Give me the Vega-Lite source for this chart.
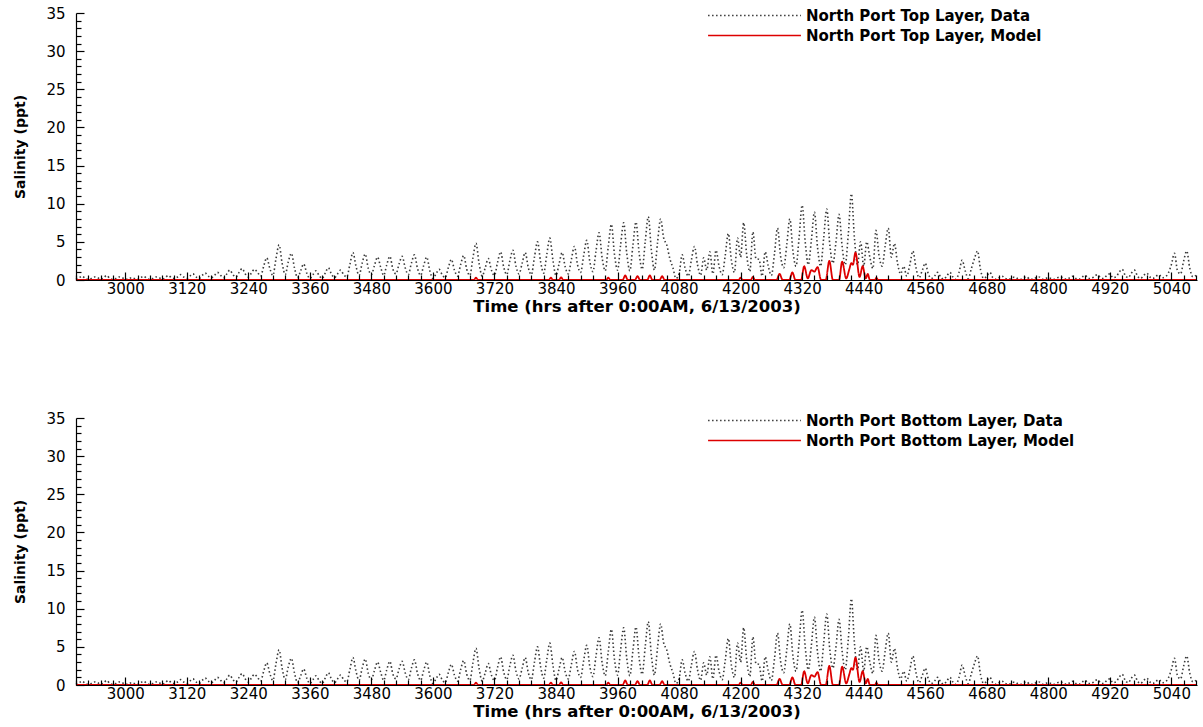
{
"$schema": "https://vega.github.io/schema/vega-lite/v6.json",
"background": "white",
"padding": {"left": 13, "top": 5, "right": 5, "bottom": 5},
"spacing": 95,
"config": {
 "view": {"stroke": null},
 "font": "DejaVu Sans",
 "axis": {"grid": false, "domainColor": "black", "tickColor": "black", "labelColor": "black", "titleColor": "black", "labelFont": "DejaVu Sans", "labelFontSize": 15, "titleFont": "DejaVu Sans", "titleFontSize": 16.5, "titleFontWeight": "bold", "domainWidth": 1.2, "tickWidth": 1.2, "labelOverlap": false, "labelFlush": false},
 "legend": {"orient": "none", "legendX": 668, "legendY": -8, "title": null, "symbolType": "M-5,0H5", "symbolSize": 345, "symbolStrokeWidth": 1.5, "labelFont": "DejaVu Sans", "labelFontSize": 15, "labelFontWeight": "bold", "labelColor": "black", "labelOffset": 41, "labelLimit": 500, "rowPadding": 1}
},
"resolve": {"scale": {"color": "independent", "strokeDash": "independent"}},
"datasets": {
 "obs": [
{"t":2904,"v":0.1},{"t":2910,"v":0.3},{"t":2916,"v":0.5},{"t":2922,"v":0.2},
{"t":2928,"v":0.1},{"t":2934,"v":0.2},{"t":2940,"v":0.4},{"t":2946,"v":0.3},
{"t":2952,"v":0.1},{"t":2958,"v":0.3},{"t":2964,"v":0.6},{"t":2970,"v":0.2},
{"t":2976,"v":0.1},{"t":2982,"v":0.2},{"t":2988,"v":0.4},{"t":2994,"v":0.3},
{"t":3000,"v":0.1},{"t":3006,"v":0.1},{"t":3012,"v":0.3},{"t":3018,"v":0.2},
{"t":3024,"v":0.1},{"t":3030,"v":0.3},{"t":3036,"v":0.5},{"t":3042,"v":0.2},
{"t":3048,"v":0.1},{"t":3054,"v":0.2},{"t":3060,"v":0.4},{"t":3066,"v":0.3},
{"t":3072,"v":0.1},{"t":3078,"v":0.3},{"t":3084,"v":0.6},{"t":3090,"v":0.3},
{"t":3096,"v":0.2},{"t":3102,"v":0.4},{"t":3108,"v":0.7},{"t":3114,"v":0.4},
{"t":3120,"v":0.2},{"t":3126,"v":0.5},{"t":3132,"v":0.8},{"t":3138,"v":0.4},
{"t":3144,"v":0.2},{"t":3150,"v":0.6},{"t":3156,"v":0.9},{"t":3162,"v":0.5},
{"t":3168,"v":0.3},{"t":3174,"v":0.6},{"t":3180,"v":1.0},{"t":3186,"v":0.6},
{"t":3192,"v":0.3},{"t":3198,"v":0.8},{"t":3204,"v":1.3},{"t":3210,"v":0.7},
{"t":3216,"v":0.4},{"t":3222,"v":1.0},{"t":3228,"v":1.5},{"t":3234,"v":0.8},
{"t":3240,"v":0.4},{"t":3246,"v":0.9},{"t":3252,"v":1.4},{"t":3258,"v":1.0},
{"t":3264,"v":0.5},{"t":3270,"v":1.8},{"t":3276,"v":2.9},{"t":3282,"v":1.5},
{"t":3288,"v":0.6},{"t":3294,"v":2.8},{"t":3300,"v":4.6},{"t":3306,"v":2.2},
{"t":3312,"v":0.7},{"t":3318,"v":2.4},{"t":3324,"v":3.5},{"t":3330,"v":1.6},
{"t":3336,"v":0.3},{"t":3342,"v":1.2},{"t":3348,"v":2.1},{"t":3354,"v":0.9},
{"t":3360,"v":0.2},{"t":3366,"v":0.7},{"t":3372,"v":1.2},{"t":3378,"v":0.6},
{"t":3384,"v":0.2},{"t":3390,"v":0.9},{"t":3396,"v":1.6},{"t":3402,"v":0.8},
{"t":3408,"v":0.3},{"t":3414,"v":0.8},{"t":3420,"v":1.3},{"t":3426,"v":0.7},
{"t":3432,"v":0.4},{"t":3438,"v":2.0},{"t":3444,"v":3.6},{"t":3450,"v":1.8},
{"t":3456,"v":0.6},{"t":3462,"v":2.2},{"t":3468,"v":3.4},{"t":3474,"v":1.5},
{"t":3480,"v":0.7},{"t":3486,"v":1.9},{"t":3492,"v":3.0},{"t":3498,"v":1.7},
{"t":3504,"v":0.6},{"t":3510,"v":2.0},{"t":3516,"v":3.1},{"t":3522,"v":1.4},
{"t":3528,"v":0.8},{"t":3534,"v":2.1},{"t":3540,"v":3.1},{"t":3546,"v":1.6},
{"t":3552,"v":0.7},{"t":3558,"v":2.2},{"t":3564,"v":3.3},{"t":3570,"v":1.5},
{"t":3576,"v":0.6},{"t":3582,"v":1.9},{"t":3588,"v":3.0},{"t":3594,"v":1.2},
{"t":3600,"v":0.2},{"t":3606,"v":0.8},{"t":3612,"v":1.4},{"t":3618,"v":0.7},
{"t":3624,"v":0.3},{"t":3630,"v":1.6},{"t":3636,"v":2.7},{"t":3642,"v":1.3},
{"t":3648,"v":0.5},{"t":3654,"v":2.0},{"t":3660,"v":3.2},{"t":3666,"v":1.4},
{"t":3672,"v":0.6},{"t":3678,"v":2.9},{"t":3684,"v":4.8},{"t":3690,"v":2.2},
{"t":3696,"v":0.5},{"t":3702,"v":1.6},{"t":3708,"v":2.8},{"t":3714,"v":1.3},
{"t":3720,"v":0.6},{"t":3726,"v":2.3},{"t":3732,"v":3.7},{"t":3738,"v":1.7},
{"t":3744,"v":0.7},{"t":3750,"v":2.5},{"t":3756,"v":3.9},{"t":3762,"v":1.8},
{"t":3768,"v":0.8},{"t":3774,"v":2.2},{"t":3780,"v":3.6},{"t":3786,"v":1.6},
{"t":3792,"v":0.7},{"t":3798,"v":3.0},{"t":3804,"v":5.0},{"t":3810,"v":2.4},
{"t":3816,"v":0.9},{"t":3822,"v":3.3},{"t":3828,"v":5.5},{"t":3834,"v":2.6},
{"t":3840,"v":0.6},{"t":3846,"v":2.1},{"t":3852,"v":3.6},{"t":3858,"v":1.7},
{"t":3864,"v":0.8},{"t":3870,"v":2.7},{"t":3876,"v":4.4},{"t":3882,"v":2.0},
{"t":3888,"v":1.0},{"t":3894,"v":3.2},{"t":3900,"v":5.2},{"t":3906,"v":2.4},
{"t":3912,"v":1.1},{"t":3918,"v":3.8},{"t":3924,"v":6.2},{"t":3930,"v":2.9},
{"t":3936,"v":1.2},{"t":3942,"v":4.4},{"t":3948,"v":7.3},{"t":3954,"v":3.4},
{"t":3960,"v":1.3},{"t":3966,"v":4.6},{"t":3972,"v":7.5},{"t":3978,"v":3.5},
{"t":3984,"v":1.2},{"t":3990,"v":4.5},{"t":3996,"v":7.6},{"t":4002,"v":3.6},
{"t":4008,"v":1.4},{"t":4014,"v":5.0},{"t":4020,"v":8.3},{"t":4026,"v":3.9},
{"t":4032,"v":1.3},{"t":4038,"v":4.9},{"t":4044,"v":8.0},{"t":4050,"v":5.5},
{"t":4056,"v":4.6},{"t":4062,"v":2.8},{"t":4068,"v":1.6},{"t":4074,"v":0.2},
{"t":4080,"v":0.8},{"t":4086,"v":3.3},{"t":4092,"v":1.5},{"t":4098,"v":0.5},
{"t":4104,"v":2.6},{"t":4110,"v":4.4},{"t":4116,"v":2.0},{"t":4122,"v":0.6},
{"t":4128,"v":2.9},{"t":4134,"v":1.3},{"t":4140,"v":3.7},{"t":4146,"v":0.8},
{"t":4152,"v":3.9},{"t":4158,"v":1.8},{"t":4164,"v":0.7},{"t":4170,"v":3.2},
{"t":4176,"v":6.1},{"t":4182,"v":2.6},{"t":4188,"v":1.0},{"t":4194,"v":5.5},
{"t":4200,"v":3.0},{"t":4206,"v":7.5},{"t":4212,"v":3.2},{"t":4218,"v":1.1},
{"t":4224,"v":6.3},{"t":4230,"v":2.8},{"t":4236,"v":2.7},{"t":4242,"v":0.5},
{"t":4248,"v":3.7},{"t":4254,"v":1.8},{"t":4260,"v":0.6},{"t":4266,"v":3.4},
{"t":4272,"v":6.8},{"t":4278,"v":3.1},{"t":4284,"v":1.6},{"t":4290,"v":4.6},
{"t":4296,"v":8.0},{"t":4302,"v":3.8},{"t":4308,"v":1.8},{"t":4314,"v":5.5},
{"t":4320,"v":9.8},{"t":4326,"v":5.0},{"t":4332,"v":2.0},{"t":4338,"v":5.2},
{"t":4344,"v":8.9},{"t":4350,"v":4.3},{"t":4356,"v":1.8},{"t":4362,"v":5.5},
{"t":4368,"v":9.3},{"t":4374,"v":4.6},{"t":4380,"v":2.2},{"t":4386,"v":5.0},
{"t":4392,"v":8.6},{"t":4398,"v":4.4},{"t":4404,"v":2.0},{"t":4410,"v":6.0},
{"t":4416,"v":11.3},{"t":4422,"v":5.5},{"t":4428,"v":2.0},{"t":4434,"v":5.0},
{"t":4440,"v":1.8},{"t":4446,"v":5.0},{"t":4452,"v":3.0},{"t":4458,"v":1.5},
{"t":4464,"v":6.5},{"t":4470,"v":3.2},{"t":4476,"v":1.8},{"t":4482,"v":4.5},
{"t":4488,"v":6.8},{"t":4494,"v":3.0},{"t":4500,"v":4.8},{"t":4506,"v":2.2},
{"t":4512,"v":0.8},{"t":4518,"v":1.8},{"t":4524,"v":0.5},{"t":4530,"v":2.0},
{"t":4536,"v":3.8},{"t":4542,"v":1.6},{"t":4548,"v":0.3},{"t":4554,"v":1.2},
{"t":4560,"v":2.2},{"t":4566,"v":0.8},{"t":4572,"v":0.2},{"t":4578,"v":0.5},
{"t":4584,"v":1.0},{"t":4590,"v":0.4},{"t":4596,"v":0.1},{"t":4602,"v":0.5},
{"t":4608,"v":1.0},{"t":4614,"v":0.4},{"t":4620,"v":0.1},{"t":4626,"v":1.0},
{"t":4632,"v":2.6},{"t":4638,"v":1.2},{"t":4644,"v":0.2},{"t":4650,"v":1.5},
{"t":4656,"v":2.8},{"t":4662,"v":3.8},{"t":4668,"v":1.3},{"t":4674,"v":0.2},
{"t":4680,"v":0.5},{"t":4686,"v":1.0},{"t":4692,"v":0.3},{"t":4698,"v":0.1},
{"t":4704,"v":0.3},{"t":4710,"v":0.5},{"t":4716,"v":0.2},{"t":4722,"v":0.1},
{"t":4728,"v":0.2},{"t":4734,"v":0.4},{"t":4740,"v":0.2},{"t":4746,"v":0.1},
{"t":4752,"v":0.3},{"t":4758,"v":0.4},{"t":4764,"v":0.1},{"t":4770,"v":0.1},
{"t":4776,"v":0.3},{"t":4782,"v":0.4},{"t":4788,"v":0.1},{"t":4794,"v":0.2},
{"t":4800,"v":0.3},{"t":4806,"v":0.2},{"t":4812,"v":0.1},{"t":4818,"v":0.3},
{"t":4824,"v":0.4},{"t":4830,"v":0.2},{"t":4836,"v":0.1},{"t":4842,"v":0.3},
{"t":4848,"v":0.5},{"t":4854,"v":0.2},{"t":4860,"v":0.1},{"t":4866,"v":0.4},
{"t":4872,"v":0.6},{"t":4878,"v":0.2},{"t":4884,"v":0.2},{"t":4890,"v":0.5},
{"t":4896,"v":0.7},{"t":4902,"v":0.3},{"t":4908,"v":0.2},{"t":4914,"v":0.6},
{"t":4920,"v":0.8},{"t":4926,"v":0.3},{"t":4932,"v":0.4},{"t":4938,"v":1.0},
{"t":4944,"v":1.4},{"t":4950,"v":0.6},{"t":4956,"v":0.3},{"t":4962,"v":0.9},
{"t":4968,"v":1.3},{"t":4974,"v":0.5},{"t":4980,"v":0.2},{"t":4986,"v":0.6},
{"t":4992,"v":0.9},{"t":4998,"v":0.4},{"t":5004,"v":0.2},{"t":5010,"v":0.5},
{"t":5016,"v":0.7},{"t":5022,"v":0.3},{"t":5028,"v":0.4},{"t":5034,"v":0.9},
{"t":5040,"v":2.0},{"t":5046,"v":3.5},{"t":5052,"v":1.2},{"t":5058,"v":0.8},
{"t":5064,"v":2.5},{"t":5070,"v":3.8},{"t":5076,"v":1.5},{"t":5082,"v":0.4},
{"t":5088,"v":0.6}
 ],
 "model": [
{"t":2904,"v":0},{"t":3680,"v":0},{"t":3684,"v":0.3},{"t":3688,"v":0},{"t":3826,"v":0},{"t":3830,"v":0.3},{"t":3834,"v":0},{"t":3846,"v":0},{"t":3850,"v":0.35},{"t":3854,"v":0},{"t":3938,"v":0},{"t":3942,"v":0.3},{"t":3946,"v":0},{"t":3970,"v":0},{"t":3975,"v":0.6},{"t":3980,"v":0},{"t":3994,"v":0},{"t":3999,"v":0.5},{"t":4004,"v":0},{"t":4018,"v":0},{"t":4023,"v":0.6},{"t":4028,"v":0},{"t":4042,"v":0},{"t":4047,"v":0.5},{"t":4052,"v":0},{"t":4196,"v":0},{"t":4200,"v":0.3},{"t":4204,"v":0},{"t":4220,"v":0},{"t":4224,"v":0.4},{"t":4228,"v":0},{"t":4270,"v":0},{"t":4276,"v":0.8},{"t":4282,"v":0},{"t":4295,"v":0},{"t":4301,"v":1.0},{"t":4307,"v":0},{"t":4318,"v":0},{"t":4324,"v":1.8},{"t":4331,"v":0.2},{"t":4338,"v":1.3},{"t":4344,"v":1.1},{"t":4350,"v":1.7},{"t":4357,"v":0},{"t":4366,"v":0},{"t":4373,"v":2.5},{"t":4380,"v":0},{"t":4392,"v":0},{"t":4398,"v":2.4},{"t":4406,"v":0.2},{"t":4412,"v":1.4},{"t":4416,"v":2.2},{"t":4419,"v":2.0},{"t":4424,"v":3.6},{"t":4432,"v":0.4},{"t":4438,"v":1.8},{"t":4444,"v":0.2},{"t":4448,"v":0.8},{"t":4452,"v":0},{"t":4462,"v":0},{"t":4465,"v":0.3},{"t":4468,"v":0},{"t":5090,"v":0}
 ]
},
"vconcat": [
 {
  "width": 1121, "height": 267,
  "layer": [
   {"data": {"name": "obs"}, "mark": {"type": "line", "strokeWidth": 1.6, "interpolate": "monotone"},
    "encoding": {
     "x": {"field": "t", "type": "quantitative", "scale": {"domain": [2904, 5090], "nice": false, "zero": false},
      "axis": {"title": "Time (hrs after 0:00AM, 6/13/2003)", "format": "d", "zindex": 1, "labelPadding": 9, "titlePadding": -1, "tickCount": 500,
       "values": [2904,2928,2952,2976,3000,3024,3048,3072,3096,3120,3144,3168,3192,3216,3240,3264,3288,3312,3336,3360,3384,3408,3432,3456,3480,3504,3528,3552,3576,3600,3624,3648,3672,3696,3720,3744,3768,3792,3816,3840,3864,3888,3912,3936,3960,3984,4008,4032,4056,4080,4104,4128,4152,4176,4200,4224,4248,4272,4296,4320,4344,4368,4392,4416,4440,4464,4488,4512,4536,4560,4584,4608,4632,4656,4680,4704,4728,4752,4776,4800,4824,4848,4872,4896,4920,4944,4968,4992,5016,5040,5064,5088],
       "labelExpr": "(datum.value - 3000) % 120 === 0 ? datum.label : ''",
       "tickSize": {"condition": {"test": "(datum.value - 3000) % 120 === 0", "value": -8}, "value": -5}}},
     "y": {"field": "v", "type": "quantitative", "scale": {"domain": [0, 35], "nice": false},
      "axis": {"title": "Salinity (ppt)", "format": "d", "titleFontSize": 14, "labelPadding": 19, "titlePadding": 18, "tickCount": 200,
       "values": [0,1,2,3,4,5,6,7,8,9,10,11,12,13,14,15,16,17,18,19,20,21,22,23,24,25,26,27,28,29,30,31,32,33,34,35],
       "labelExpr": "datum.value % 5 === 0 ? datum.label : ''",
       "tickSize": {"condition": {"test": "datum.value % 5 === 0", "value": -8}, "value": -5}}},
     "color": {"datum": "North Port Top Layer, Data", "type": "nominal", "scale": {"domain": ["North Port Top Layer, Data", "North Port Top Layer, Model"], "range": ["#3a3a3a", "#dd0000"]}},
     "strokeDash": {"datum": "North Port Top Layer, Data", "type": "nominal", "scale": {"domain": ["North Port Top Layer, Data", "North Port Top Layer, Model"], "range": [[1.5, 2.5], [1, 0]]}}
    }},
   {"data": {"name": "model"}, "mark": {"type": "line", "strokeWidth": 1.8, "interpolate": "monotone"},
    "encoding": {
     "x": {"field": "t", "type": "quantitative"},
     "y": {"field": "v", "type": "quantitative"},
     "color": {"datum": "North Port Top Layer, Model", "type": "nominal"},
     "strokeDash": {"datum": "North Port Top Layer, Model", "type": "nominal"}
    }}
  ]
 },
 {
  "width": 1121, "height": 267,
  "layer": [
   {"data": {"name": "obs"}, "mark": {"type": "line", "strokeWidth": 1.6, "interpolate": "monotone"},
    "encoding": {
     "x": {"field": "t", "type": "quantitative", "scale": {"domain": [2904, 5090], "nice": false, "zero": false},
      "axis": {"title": "Time (hrs after 0:00AM, 6/13/2003)", "format": "d", "zindex": 1, "labelPadding": 9, "titlePadding": -1, "tickCount": 500,
       "values": [2904,2928,2952,2976,3000,3024,3048,3072,3096,3120,3144,3168,3192,3216,3240,3264,3288,3312,3336,3360,3384,3408,3432,3456,3480,3504,3528,3552,3576,3600,3624,3648,3672,3696,3720,3744,3768,3792,3816,3840,3864,3888,3912,3936,3960,3984,4008,4032,4056,4080,4104,4128,4152,4176,4200,4224,4248,4272,4296,4320,4344,4368,4392,4416,4440,4464,4488,4512,4536,4560,4584,4608,4632,4656,4680,4704,4728,4752,4776,4800,4824,4848,4872,4896,4920,4944,4968,4992,5016,5040,5064,5088],
       "labelExpr": "(datum.value - 3000) % 120 === 0 ? datum.label : ''",
       "tickSize": {"condition": {"test": "(datum.value - 3000) % 120 === 0", "value": -8}, "value": -5}}},
     "y": {"field": "v", "type": "quantitative", "scale": {"domain": [0, 35], "nice": false},
      "axis": {"title": "Salinity (ppt)", "format": "d", "titleFontSize": 14, "labelPadding": 19, "titlePadding": 18, "tickCount": 200,
       "values": [0,1,2,3,4,5,6,7,8,9,10,11,12,13,14,15,16,17,18,19,20,21,22,23,24,25,26,27,28,29,30,31,32,33,34,35],
       "labelExpr": "datum.value % 5 === 0 ? datum.label : ''",
       "tickSize": {"condition": {"test": "datum.value % 5 === 0", "value": -8}, "value": -5}}},
     "color": {"datum": "North Port Bottom Layer, Data", "type": "nominal", "scale": {"domain": ["North Port Bottom Layer, Data", "North Port Bottom Layer, Model"], "range": ["#3a3a3a", "#dd0000"]}},
     "strokeDash": {"datum": "North Port Bottom Layer, Data", "type": "nominal", "scale": {"domain": ["North Port Bottom Layer, Data", "North Port Bottom Layer, Model"], "range": [[1.5, 2.5], [1, 0]]}}
    }},
   {"data": {"name": "model"}, "mark": {"type": "line", "strokeWidth": 1.8, "interpolate": "monotone"},
    "encoding": {
     "x": {"field": "t", "type": "quantitative"},
     "y": {"field": "v", "type": "quantitative"},
     "color": {"datum": "North Port Bottom Layer, Model", "type": "nominal"},
     "strokeDash": {"datum": "North Port Bottom Layer, Model", "type": "nominal"}
    }}
  ]
 }
]
}
